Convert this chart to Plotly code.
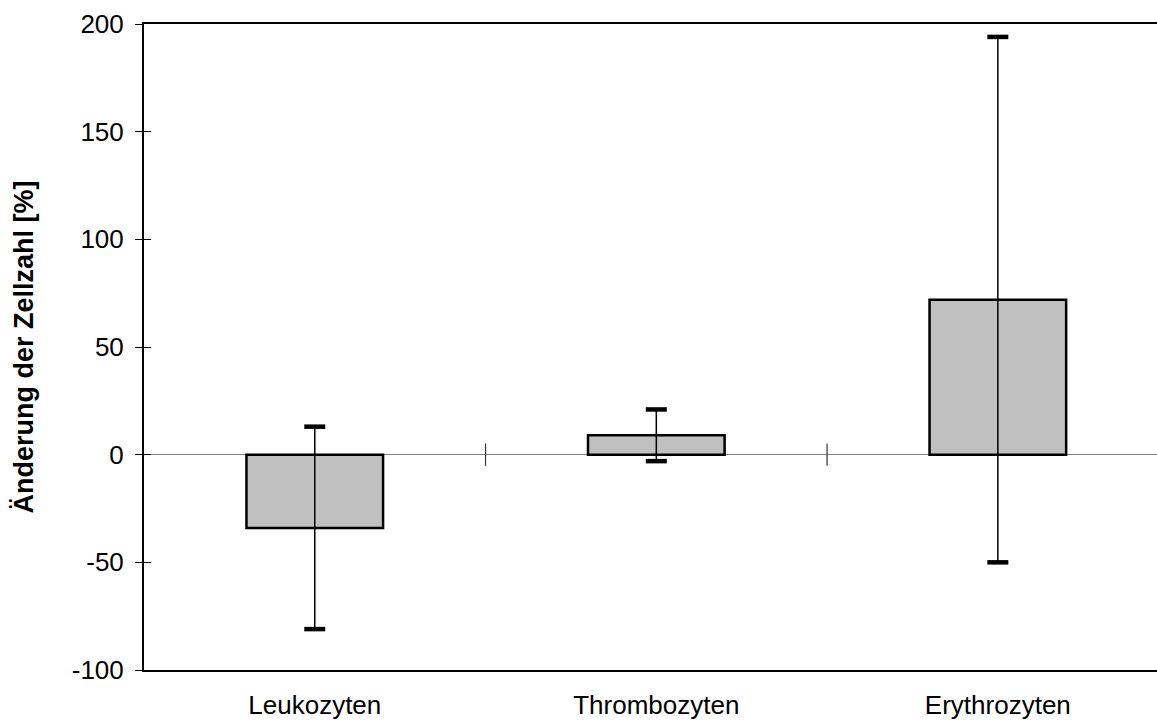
import plotly.graph_objects as go

categories = ["Leukozyten", "Thrombozyten", "Erythrozyten"]
values = [-34, 9, 72]
err_upper = [13, 21, 194]
err_lower = [-81, -3, -50]
separators = [0.5, 1.5]
y_ticks = [-100, -50, 0, 50, 100, 150, 200]
y_tick_labels = ["-100", "-50", "0", "50", "100", "150", "200"]

x = list(range(len(categories)))
plus = [u - v for u, v in zip(err_upper, values)]
minus = [v - l for v, l in zip(values, err_lower)]

fig = go.Figure()
fig.add_trace(go.Bar(
    x=x, y=values, width=0.4,
    marker=dict(color="#c0c0c0", line=dict(color="black", width=2.5)),
    error_y=dict(type="data", symmetric=False, array=plus, arrayminus=minus,
                 color="black", thickness=1.5, width=0),
    showlegend=False, hoverinfo="skip",
))
fig.add_trace(go.Scatter(
    x=x + x, y=err_upper + err_lower, mode="markers",
    marker=dict(symbol="line-ew", size=15, line=dict(color="black", width=4.5)),
    showlegend=False, hoverinfo="skip",
))
fig.add_trace(go.Scatter(
    x=separators, y=[0] * len(separators), mode="markers",
    marker=dict(symbol="line-ns", size=16, line=dict(color="#333333", width=1.2)),
    showlegend=False, hoverinfo="skip",
))

font = "Liberation Sans, Arial, sans-serif"
fig.update_layout(
    width=1157, height=722,
    margin=dict(l=144, r=0, t=24, b=52),
    paper_bgcolor="white", plot_bgcolor="white",
    font=dict(family=font, size=26, color="black"),
    xaxis=dict(
        range=[-0.5, 2.466], tickvals=x, ticktext=categories,
        showline=True, linecolor="black", linewidth=2, mirror=True,
        ticks="", showgrid=False, zeroline=False,
        tickfont=dict(size=26), ticklabelstandoff=11,
    ),
    yaxis=dict(
        range=[-100, 200], tickvals=y_ticks, ticktext=y_tick_labels,
        showline=True, linecolor="black", linewidth=2,
        ticks="outside", ticklen=7, tickwidth=1, tickcolor="black",
        showgrid=False, zeroline=True, zerolinecolor="#808080", zerolinewidth=1,
        tickfont=dict(size=26), ticklabelstandoff=6,
        title=dict(text="<b>Änderung der Zellzahl [%]</b>", font=dict(size=27), standoff=30),
    ),
    yaxis2=dict(
        range=[-100, 200], tickvals=y_ticks,
        overlaying="y", side="left", showticklabels=False,
        ticks="inside", ticklen=7, tickwidth=1, tickcolor="black",
        showgrid=False, zeroline=False, showline=False,
    ),
)
fig.add_trace(go.Scatter(x=[None], y=[None], yaxis="y2", showlegend=False, hoverinfo="skip"))

fig.write_html("out.html")
